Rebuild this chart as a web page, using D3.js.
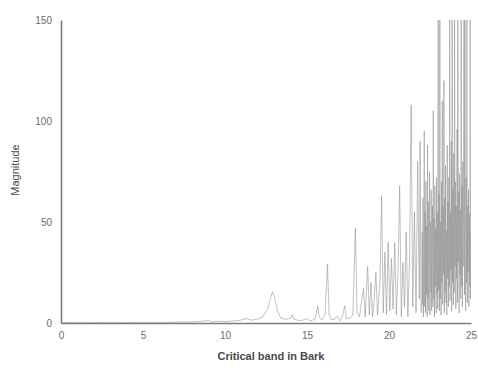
<!DOCTYPE html>
<html>
<head>
<meta charset="utf-8">
<script src="https://cdn.jsdelivr.net/npm/d3@7"></script>
<style>
  body { margin: 0; background: #fff; }
  svg { display: block; }
</style>
</head>
<body>
<svg id="chart"></svg>
<script>
// tick labels
const xTicks = [0, 5, 10, 15, 20, 25];
const yTicks = [0, 50, 100, 150];

// spectrum: [critical band (Bark), magnitude]
const spectrum = [
  [0, 0.2], [1, 0.3], [2, 0.2], [3, 0.3], [4, 0.2], [5, 0.3], [6, 0.3], [7, 0.4], [8, 0.5],
  [8.5, 0.8], [9, 1.2], [9.2, 0.6], [9.5, 0.9], [10, 0.7], [10.5, 1.0], [11, 1.5], [11.3, 2.2],
  [11.6, 1.4], [12, 2.0], [12.3, 3], [12.6, 7], [12.8, 13], [12.9, 15.5], [13.0, 13], [13.2, 6],
  [13.4, 2.5], [13.7, 1.8], [14.0, 2.5], [14.1, 4], [14.2, 2], [14.5, 1.2], [14.8, 1.5],
  [15.0, 2.2], [15.2, 1], [15.5, 2], [15.65, 8.5], [15.75, 3], [15.9, 1.5], [16.1, 4],
  [16.25, 29], [16.35, 4], [16.5, 1.5], [16.7, 2], [16.85, 3.5], [17.0, 1], [17.15, 3],
  [17.3, 8.5], [17.4, 2], [17.6, 2.5], [17.8, 4], [17.95, 47], [18.05, 5], [18.2, 3],
  [18.3, 9], [18.45, 17], [18.55, 3], [18.7, 28], [18.8, 4], [18.9, 20], [19.0, 3], [19.1, 12],
  [19.2, 25], [19.3, 4], [19.45, 20], [19.55, 63], [19.65, 5], [19.75, 35], [19.85, 4],
  [19.95, 40], [20.05, 6], [20.15, 32], [20.25, 7], [20.35, 40], [20.45, 4], [20.55, 25],
  [20.65, 68], [20.75, 3], [20.85, 30], [20.95, 8], [21.05, 45], [21.15, 3], [21.25, 30],
  [21.35, 108], [21.45, 8], [21.55, 55], [21.65, 5], [21.75, 80], [21.85, 12], [21.9, 90],
  [21.95, 6],
  [22.000, 5], [22.025, 45], [22.050, 9], [22.075, 62], [22.100, 3], [22.125, 38],
  [22.150, 95], [22.175, 8], [22.200, 55], [22.225, 5], [22.250, 70], [22.275, 14],
  [22.300, 48], [22.325, 3], [22.350, 88], [22.375, 12], [22.400, 60], [22.425, 6],
  [22.450, 42], [22.475, 75], [22.500, 4], [22.525, 50], [22.550, 15], [22.575, 66],
  [22.600, 6], [22.625, 40], [22.650, 58], [22.675, 8], [22.700, 105], [22.725, 12],
  [22.750, 52], [22.775, 3], [22.800, 68], [22.825, 18], [22.850, 47], [22.875, 5],
  [22.900, 72], [22.925, 14], [22.950, 55], [22.975, 7], [23.000, 160], [23.025, 16],
  [23.050, 64], [23.075, 6], [23.100, 160], [23.125, 12], [23.150, 50], [23.175, 4],
  [23.200, 70], [23.225, 20], [23.250, 110], [23.275, 9], [23.300, 58], [23.325, 24],
  [23.350, 120], [23.375, 5], [23.400, 62], [23.425, 15], [23.450, 78], [23.475, 10],
  [23.500, 46], [23.525, 4], [23.550, 88], [23.575, 22], [23.600, 60], [23.625, 8],
  [23.650, 72], [23.675, 18], [23.700, 160], [23.725, 11], [23.750, 55], [23.775, 26],
  [23.800, 90], [23.825, 6], [23.850, 160], [23.875, 20], [23.900, 66], [23.925, 9],
  [23.950, 84], [23.975, 15], [24.000, 160], [24.025, 28], [24.050, 70], [24.075, 7],
  [24.100, 58], [24.125, 22], [24.150, 96], [24.175, 10], [24.200, 160], [24.225, 30],
  [24.250, 65], [24.275, 5], [24.300, 74], [24.325, 24], [24.350, 56], [24.375, 12],
  [24.400, 160], [24.425, 18], [24.450, 68], [24.475, 8], [24.500, 80], [24.525, 28],
  [24.550, 62], [24.575, 160], [24.600, 14], [24.625, 160], [24.650, 32], [24.675, 6],
  [24.700, 72], [24.725, 20], [24.750, 160], [24.775, 10], [24.800, 58], [24.825, 25],
  [24.850, 66], [24.875, 8], [24.900, 54], [24.925, 18], [24.950, 160], [24.975, 12],
  [25.000, 45]
];

const width = 478, height = 368;
const margin = { top: 20, right: 7, bottom: 45, left: 61 };

const svg = d3.select("#chart")
  .attr("width", width)
  .attr("height", height)
  .attr("viewBox", [0, 0, width, height]);

const x = d3.scaleLinear().domain([0, 25]).range([margin.left, width - margin.right]);
const y = d3.scaleLinear().domain([0, 150]).range([height - margin.bottom, margin.top]);

svg.append("clipPath").attr("id", "plot-clip")
  .append("rect")
  .attr("x", margin.left)
  .attr("y", margin.top)
  .attr("width", width - margin.left - margin.right)
  .attr("height", height - margin.top - margin.bottom);

const line = d3.line()
  .x(d => x(d[0]))
  .y(d => y(d[1]));

svg.append("path")
  .datum(spectrum)
  .attr("clip-path", "url(#plot-clip)")
  .attr("fill", "none")
  .attr("stroke", "#8f8f8f")
  .attr("stroke-width", 0.8)
  .attr("stroke-opacity", 0.7)
  .attr("d", line);

//axes
const xAxis = svg.append("g")
  .attr("transform", `translate(0,${height - margin.bottom})`)
  .call(d3.axisBottom(x).tickValues(xTicks).tickSize(0).tickPadding(9));
const yAxis = svg.append("g")
  .attr("transform", `translate(${margin.left},0)`)
  .call(d3.axisLeft(y).tickValues(yTicks).tickSize(0).tickPadding(9));

[xAxis, yAxis].forEach(g => {
  g.select(".domain").attr("stroke", "#7d7d7d").attr("stroke-width", 1.6);
  g.selectAll("text")
    .attr("fill", "#6a6a6a")
    .style("font", "10px 'Liberation Sans', Arial, sans-serif");
});

svg.append("text")
  .attr("x", 271)
  .attr("y", 360)
  .attr("text-anchor", "middle")
  .attr("fill", "#4a4a4a")
  .style("font", "bold 11px 'Liberation Sans', Arial, sans-serif")
  .text("Critical band in Bark");

svg.append("text")
  .attr("transform", "translate(19,170) rotate(-90)")
  .attr("text-anchor", "middle")
  .attr("fill", "#4a4a4a")
  .style("font", "11px 'Liberation Sans', Arial, sans-serif")
  .text("Magnitude");
</script>
</body>
</html>
